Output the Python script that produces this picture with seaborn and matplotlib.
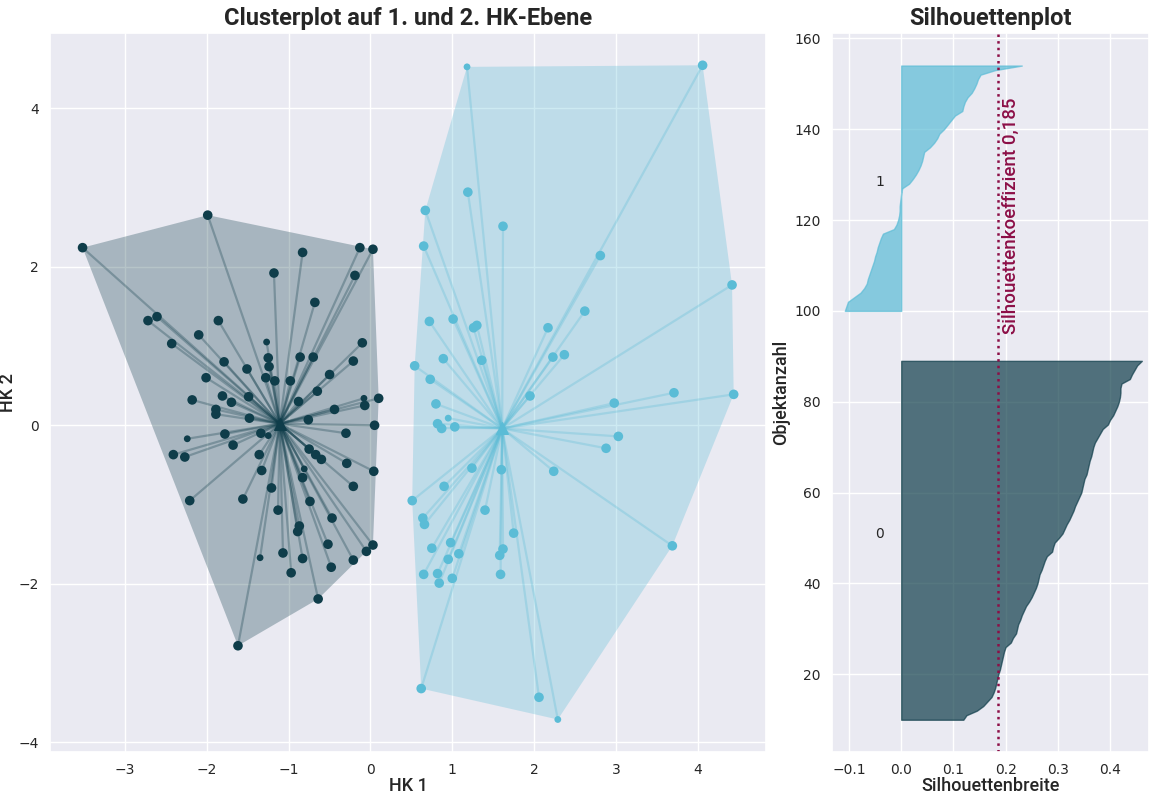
import numpy as np
import pandas as pd
import matplotlib
matplotlib.use("Agg")
import matplotlib.pyplot as plt
from matplotlib.collections import LineCollection
from matplotlib.patches import Polygon
import seaborn as sns

# Scores of the objects on the first two principal components (HK 1, HK 2)
hk1_cluster0 = [-3.52, -1.99, -0.13, 0.03, -0.83, -1.18, -0.19, -0.68, -2.72, -2.61,
                -1.86, -2.10, -2.43, -1.27, -0.10, -1.25, -0.86, -0.70, -0.21, -1.79,
                -1.24, -1.51, -0.50, -2.01, -1.28, -1.17, -0.98, -0.65, -2.18, -1.81,
                -1.70, -1.49, -0.88, -0.08, 0.10, -0.07, -0.44, -1.89, -1.89, -1.48,
                -0.76, 0.05, -0.30, -2.24, -1.78, -1.34, -1.25, -1.68, -2.41, -2.27,
                -1.36, -0.75, -0.67, -0.60, -0.29, 0.04, -1.33, -0.81, -0.83, -0.21,
                -1.21, -2.21, -1.56, -0.74, -1.13, -0.47, -0.87, -0.89, -0.52, 0.03,
                -0.05, -1.35, -1.07, -0.83, -0.21, -0.48, -0.97, -0.64, -1.62]
hk2_cluster0 = [2.24, 2.65, 2.24, 2.22, 2.18, 1.92, 1.89, 1.55, 1.32, 1.37,
                1.32, 1.14, 1.03, 1.05, 1.04, 0.85, 0.86, 0.86, 0.81, 0.80,
                0.74, 0.71, 0.64, 0.60, 0.60, 0.56, 0.56, 0.43, 0.32, 0.37,
                0.29, 0.36, 0.30, 0.34, 0.34, 0.25, 0.20, 0.20, 0.14, 0.09,
                0.07, 0.00, -0.10, -0.17, -0.11, -0.10, -0.13, -0.25, -0.37, -0.40,
                -0.37, -0.30, -0.37, -0.43, -0.48, -0.58, -0.57, -0.55, -0.66, -0.77,
                -0.79, -0.95, -0.93, -0.96, -1.07, -1.17, -1.27, -1.34, -1.50, -1.51,
                -1.59, -1.67, -1.61, -1.68, -1.70, -1.79, -1.86, -2.19, -2.78]
hk1_cluster1 = [1.19, 0.67, 1.62, 0.65, 2.81, 4.42, 0.72, 1.01, 1.26, 1.30,
                2.17, 2.62, 2.23, 2.37, 0.89, 1.36, 0.54, 0.73, 1.95, 3.71,
                4.44, 2.98, 0.80, 0.95, 0.82, 0.87, 1.03, 3.03, 2.88, 1.24,
                1.60, 2.24, 0.90, 0.51, 1.40, 0.64, 0.66, 1.75, 0.98, 0.75,
                1.08, 1.62, 1.58, 0.95, 3.69, 0.65, 0.82, 1.00, 0.84, 1.59,
                0.62, 2.06, 2.29, 1.18, 4.06]
hk2_cluster1 = [2.94, 2.71, 2.51, 2.26, 2.14, 1.77, 1.31, 1.34, 1.23, 1.26,
                1.23, 1.44, 0.86, 0.89, 0.84, 0.82, 0.75, 0.58, 0.37, 0.41,
                0.39, 0.28, 0.27, 0.09, 0.02, -0.04, -0.02, -0.14, -0.29, -0.54,
                -0.56, -0.58, -0.77, -0.95, -1.07, -1.17, -1.25, -1.36, -1.48, -1.55,
                -1.62, -1.56, -1.64, -1.69, -1.52, -1.88, -1.87, -1.93, -1.99, -1.88,
                -3.32, -3.43, -3.71, 4.52, 4.54]

# Cluster centres on the HK plane
zentrum_hk1 = [-1.11, 1.61]
zentrum_hk2 = [0.02, -0.04]

# Objects drawn with the smaller marker
klein_cluster0 = [13, 33, 43, 46, 57, 71]
klein_cluster1 = [23, 52, 53]

# Silhouette widths, sorted within each cluster
silhouette_cluster0 = [0.119, 0.125, 0.145, 0.157, 0.165, 0.173, 0.177, 0.180, 0.182, 0.184,
                       0.186, 0.189, 0.191, 0.193, 0.195, 0.197, 0.200, 0.210, 0.214, 0.220,
                       0.222, 0.224, 0.228, 0.231, 0.235, 0.239, 0.245, 0.250, 0.254, 0.258,
                       0.261, 0.263, 0.265, 0.269, 0.272, 0.275, 0.279, 0.289, 0.291, 0.294,
                       0.302, 0.309, 0.313, 0.317, 0.322, 0.326, 0.330, 0.333, 0.337, 0.341,
                       0.345, 0.347, 0.349, 0.351, 0.355, 0.357, 0.359, 0.361, 0.364, 0.366,
                       0.368, 0.371, 0.376, 0.381, 0.386, 0.396, 0.400, 0.406, 0.410, 0.414,
                       0.417, 0.419, 0.420, 0.420, 0.422, 0.438, 0.442, 0.447, 0.452, 0.461]
silhouette_cluster1 = [-0.108, -0.105, -0.102, -0.090, -0.078, -0.071, -0.066, -0.064, -0.061, -0.058,
                       -0.055, -0.052, -0.050, -0.047, -0.045, -0.042, -0.039, -0.035, -0.014, -0.009,
                       -0.006, -0.004, -0.003, -0.003, -0.002, -0.001, 0.000, 0.002, 0.015, 0.022,
                       0.028, 0.033, 0.037, 0.040, 0.042, 0.044, 0.055, 0.063, 0.069, 0.073,
                       0.082, 0.089, 0.096, 0.103, 0.117, 0.119, 0.122, 0.127, 0.135, 0.140,
                       0.144, 0.147, 0.152, 0.180, 0.231]
silhouette_koeffizient = 0.185
cluster_namen = ["0", "1"]

farben = ["#0f3d4a", "#5bbcd6"]
linie_farbe = "#8c0f47"
label_font = ["Roboto", "DejaVu Sans"]

sns.set_theme(style="darkgrid")
plt.rcParams["font.family"] = ["DejaVu Sans"]


def konvexe_huelle(punkte):
    """Monotone chain convex hull, returns vertices in order."""
    pts = sorted(set(map(tuple, punkte)))
    def kreuz(o, a, b):
        return (a[0] - o[0]) * (b[1] - o[1]) - (a[1] - o[1]) * (b[0] - o[0])
    unten, oben = [], []
    for p in pts:
        while len(unten) >= 2 and kreuz(unten[-2], unten[-1], p) <= 0:
            unten.pop()
        unten.append(p)
    for p in reversed(pts):
        while len(oben) >= 2 and kreuz(oben[-2], oben[-1], p) <= 0:
            oben.pop()
        oben.append(p)
    return np.array(unten[:-1] + oben[:-1])


frames = []
for k, (xs, ys, klein) in enumerate([(hk1_cluster0, hk2_cluster0, klein_cluster0),
                                     (hk1_cluster1, hk2_cluster1, klein_cluster1)]):
    groesse = ["klein" if i in klein else "normal" for i in range(len(xs))]
    frames.append(pd.DataFrame({"HK 1": xs, "HK 2": ys, "Cluster": cluster_namen[k],
                                "Groesse": groesse}))
df = pd.concat(frames, ignore_index=True)

fig = plt.figure(figsize=(11.49, 7.96), dpi=100)
ax1 = fig.add_axes([50 / 1149, 1 - 752 / 796, 716 / 1149, 719 / 796])
ax2 = fig.add_axes([832 / 1149, 1 - 752 / 796, 317 / 1149, 719 / 796])

# --- Cluster plot ---
for k, name in enumerate(cluster_namen):
    sub = df[df["Cluster"] == name]
    pts = sub[["HK 1", "HK 2"]].to_numpy()
    huelle = konvexe_huelle(pts)
    ax1.add_patch(Polygon(huelle, closed=True, facecolor=farben[k], alpha=0.3,
                          edgecolor="none", zorder=1))
    c = (zentrum_hk1[k], zentrum_hk2[k])
    segs = [[c, tuple(p)] for p in pts]
    ax1.add_collection(LineCollection(segs, colors=farben[k], alpha=0.3,
                                      linewidths=1.6, zorder=2))
    ax1.scatter([c[0]], [c[1]], marker="^", s=70, color=farben[k], zorder=4)

sns.scatterplot(data=df, x="HK 1", y="HK 2", hue="Cluster", palette=farben,
                size="Groesse", sizes={"normal": 48, "klein": 24},
                linewidth=0, legend=False, ax=ax1, zorder=3)

ax1.set_xlim(-3.918, 4.835)
ax1.set_ylim(-4.120, 4.947)
ax1.set_xticks(range(-3, 5))
ax1.set_yticks([-4, -2, 0, 2, 4])
ax1.set_xlabel("HK 1", fontsize=13, family=label_font, fontweight="medium", labelpad=0)
ax1.set_ylabel("HK 2", fontsize=13, family=label_font, fontweight="medium", labelpad=1)
ax1.set_title("Clusterplot auf 1. und 2. HK-Ebene", fontsize=17, fontweight="bold",
              family=label_font, pad=6)

# --- Silhouette plot ---
y_unten = 10
for k, werte in enumerate([silhouette_cluster0, silhouette_cluster1]):
    n = len(werte)
    yy = np.arange(y_unten, y_unten + n)
    ax2.fill_betweenx(yy, 0, werte, facecolor=farben[k], edgecolor=farben[k], alpha=0.7)
    ax2.text(-0.05, y_unten + 0.5 * n, cluster_namen[k], fontsize=10, color="#262626")
    y_unten += n + 10

ax2.axvline(silhouette_koeffizient, color=linie_farbe, linestyle=":", linewidth=1.8)
ax2.text(silhouette_koeffizient + 0.008, 95,
         f"Silhouettenkoeffizient {silhouette_koeffizient:.3f}".replace(".", ","),
         rotation=90, color=linie_farbe, fontsize=13.5, family=label_font,
         fontweight="medium", ha="left", va="bottom")

ax2.set_xlim(-0.1326, 0.4747)
ax2.set_ylim(2.9, 161.17)
ax2.set_xticks([-0.1, 0.0, 0.1, 0.2, 0.3, 0.4])
ax2.set_yticks(range(20, 161, 20))
ax2.set_xlabel("Silhouettenbreite", fontsize=13, family=label_font, fontweight="medium",
               labelpad=0)
ax2.set_ylabel("Objektanzahl", fontsize=13, family=label_font, fontweight="medium",
               labelpad=3)
ax2.set_title("Silhouettenplot", fontsize=17, fontweight="bold", family=label_font, pad=6)

for ax in (ax1, ax2):
    ax.tick_params(labelsize=10, colors="#262626", pad=2)

fig.savefig("out.png", dpi=100)
